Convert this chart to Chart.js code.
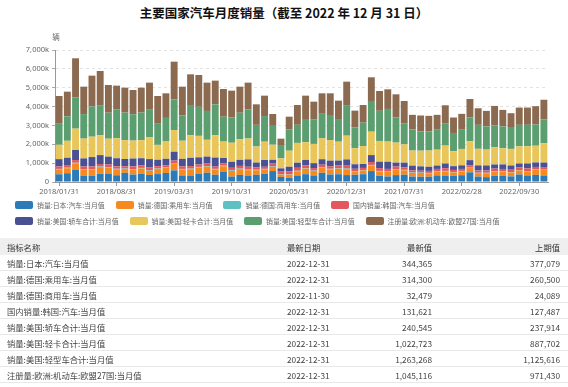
<!DOCTYPE html>
<html>
<head>
<meta charset="utf-8">
<script src="https://cdn.jsdelivr.net/npm/chart.js@4.4.1/dist/chart.umd.min.js"></script>
<style>
  body { margin: 0; width: 568px; height: 387px; background: #fff; overflow: hidden;
         font-family: "Noto Sans CJK SC", "Noto Sans", sans-serif; position: relative; }
  #title { position: absolute; top: 4px; left: 0; width: 568px; text-align: center;
           font-size: 12.5px; font-weight: bold; color: #111; line-height: 18px; }
  #wrap { position: absolute; top: 26px; left: 0; width: 568px; height: 172px; }
  #legend { position: absolute; top: 197px; left: 15px; width: 553px; }
  .lrow { display: flex; height: 16px; align-items: center; }
  .litem { display: flex; align-items: center; margin-right: 11px; font-size: 6.9px; color: #666; white-space: nowrap; }
  .lbox { width: 18px; height: 8px; border-radius: 2px; margin-right: 4px; }
  table { position: absolute; top: 238px; left: 0; width: 568px; border-collapse: collapse;
          font-size: 8.3px; color: #444; table-layout: fixed; }
  th { background: #efefef; font-weight: normal; color: #333; height: 17px; padding: 0 8px 0 7px; }
  td { height: 15px; padding: 0 8px 0 7px; border-bottom: 1px solid #e8e8e8; }
  th.l, td.l { text-align: left; }
  th.r, td.r { text-align: right; }
</style>
</head>
<body>
<div id="title">主要国家汽车月度销量（截至 2022 年 12 月 31 日）</div>
<div id="wrap"><canvas id="chart" width="568" height="172"></canvas></div>
<div id="legend"></div>
<table id="tbl">
  <colgroup><col style="width:280px"><col style="width:100px"><col style="width:60px"><col style="width:128px"></colgroup>
  <thead><tr><th class="l">指标名称</th><th class="l">最新日期</th><th class="r">最新值</th><th class="r">上期值</th></tr></thead>
  <tbody></tbody>
</table>
<script>
// 月份（月末日期）
const categories = [
  '2018/01/31','2018/02/28','2018/03/31','2018/04/30','2018/05/31','2018/06/30','2018/07/31','2018/08/31','2018/09/30','2018/10/31','2018/11/30','2018/12/31',
  '2019/01/31','2019/02/28','2019/03/31','2019/04/30','2019/05/31','2019/06/30','2019/07/31','2019/08/31','2019/09/30','2019/10/31','2019/11/30','2019/12/31',
  '2020/01/31','2020/02/29','2020/03/31','2020/04/30','2020/05/31','2020/06/30','2020/07/31','2020/08/31','2020/09/30','2020/10/31','2020/11/30','2020/12/31',
  '2021/01/31','2021/02/28','2021/03/31','2021/04/30','2021/05/31','2021/06/30','2021/07/31','2021/08/31','2021/09/30','2021/10/31','2021/11/30','2021/12/31',
  '2022/01/31','2022/02/28','2022/03/31','2022/04/30','2022/05/31','2022/06/30','2022/07/31','2022/08/31','2022/09/30','2022/10/31','2022/11/30','2022/12/31'
];

// 各序列数值，单位：千辆
const japan = [
  410,466,638,340,336,438,448,357,485,395,436,375,
  420,476,615,348,344,446,488,384,554,288,375,344,
  380,430,581,270,219,348,415,349,486,398,413,367,
  384,415,579,332,294,366,384,288,280,279,350,341,
  324,360,513,287,258,329,337,297,400,349,377.079,344.365
];
const germanyPC = [
  257,264,347,311,314,352,318,316,200,264,281,210,
  266,275,345,311,331,325,326,283,283,296,305,283,
  246,239,215,121,169,220,294,232,265,273,290,311,
  169,194,292,230,236,274,236,194,197,179,198,223,
  184,203,226,181,206,221,205,208,210,211,260.5,314.3
];
const germanyCV = [
  28,29,37,33,34,33,31,30,26,30,31,27,
  29,30,37,34,35,31,34,30,31,33,32,30,
  27,28,27,17,22,28,33,28,32,32,30,34,
  22,25,35,28,27,31,26,23,25,24,25,27,
  24,25,29,24,26,28,25,26,27,24.089,32.479,null
];
const korea = [
  127,106,140,137,139,133,128,127,119,136,143,153,
  124,108,139,135,133,125,130,119,124,135,141,151,
  128,110,154,145,159,157,138,130,134,131,144,155,
  125,112,151,146,137,147,130,113,97,106,120,139,
  108,105,121,118,122,131,124,120,133,138,127.487,131.621
];
const usCars = [
  390,420,537,430,500,470,420,430,390,420,370,450,
  340,340,470,400,440,380,370,480,280,320,320,390,
  250,360,200,170,240,270,290,260,290,300,260,330,
  240,210,370,340,380,210,250,250,230,220,180,250,
  200,190,270,270,265,220,240,225,210,260,237.914,240.545
];
const usLightTrucks = [
  760,900,1130,1050,1080,1060,950,1060,1000,950,960,1150,
  790,920,1150,960,1200,1140,890,1180,870,1010,1090,1110,
  850,970,800,530,850,1050,940,1020,1110,1090,1000,1260,
  850,950,1240,1100,1070,1060,970,800,830,860,840,950,
  790,870,1000,880,840,910,860,880,910,910,887.702,1022.723
];
const usLightVehicles = [
  1150,1300,1650,1300,1600,1560,1380,1520,1460,1400,1460,1500,
  1120,1250,1620,1340,1600,1540,1530,1640,1320,1340,1410,1550,
  1150,1360,1000,710,1120,960,1230,1310,1300,1330,1160,1620,
  1110,1240,1630,1600,1730,1340,1120,1120,1020,1020,1090,1190,
  970,1050,1260,1270,1230,1160,1160,1160,1140,1140,1125.616,1263.268
];
const eu27 = [
  1438,1305,2081,1455,1637,1841,1470,1270,1323,1285,1322,1404,
  1472,1304,2006,1528,1627,1688,1501,1259,1471,1422,1383,1411,
  1088,1082,630,335,686,1051,1239,932,1086,1149,1017,1245,
  884,938,1255,1051,1041,1222,1180,773,847,820,758,949,
  820,810,984,881,824,1035,873,732,917,915,971.43,1045.116
];

const yTicks = [0, 1000, 2000, 3000, 4000, 5000, 6000, 7000];

const seriesNames = [
  '销量:日本:汽车:当月值', '销量:德国:乘用车:当月值', '销量:德国:商用车:当月值', '国内销量:韩国:汽车:当月值',
  '销量:美国:轿车合计:当月值', '销量:美国:轻卡合计:当月值', '销量:美国:轻型车合计:当月值', '注册量:欧洲:机动车:欧盟27国:当月值'
];
const seriesData = [japan, germanyPC, germanyCV, korea, usCars, usLightTrucks, usLightVehicles, eu27];
const colors = ['#2b7bb9', '#f68a1e', '#5dc0c2', '#e2585e', '#4a5193', '#e8c65a', '#5b9e70', '#8b6a4f'];

// 表格：最新日期、最新值、上期值
const latestDates = ['2022-12-31','2022-12-31','2022-11-30','2022-12-31','2022-12-31','2022-12-31','2022-12-31','2022-12-31'];
const latestValues = [344365, 314300, 32479, 131621, 240545, 1022723, 1263268, 1045116];
const prevValues = [377079, 260500, 24089, 127487, 237914, 887702, 1125616, 971430];

// 图例（两行）
const legendRows = [[0, 1, 2, 3], [4, 5, 6, 7]];
const legend = document.getElementById('legend');
legendRows.forEach(row => {
  const r = document.createElement('div');
  r.className = 'lrow';
  row.forEach(i => {
    const it = document.createElement('div');
    it.className = 'litem';
    it.innerHTML = '<span class="lbox" style="background:' + colors[i] + '"></span>' + seriesNames[i];
    r.appendChild(it);
  });
  legend.appendChild(r);
});

// 表格内容
const tbody = document.querySelector('#tbl tbody');
seriesNames.forEach((name, i) => {
  const tr = document.createElement('tr');
  tr.innerHTML = '<td class="l">' + name + '</td><td class="l">' + latestDates[i] + '</td>' +
    '<td class="r">' + latestValues[i].toLocaleString('en-US') + '</td>' +
    '<td class="r">' + prevValues[i].toLocaleString('en-US') + '</td>';
  tbody.appendChild(tr);
});

// 单位“辆”
const unitLabel = {
  id: 'unitLabel',
  afterDraw(chart) {
    const c = chart.ctx;
    c.save();
    c.font = '7.5px "Noto Sans CJK SC"';
    c.fillStyle = '#666';
    c.textAlign = 'center';
    c.textBaseline = 'middle';
    c.fillText('辆', chart.chartArea.left + 1, chart.chartArea.top - 13);
    c.restore();
  }
};

new Chart(document.getElementById('chart').getContext('2d'), {
  type: 'bar',
  data: {
    labels: categories,
    datasets: seriesData.map((d, i) => ({
      label: seriesNames[i],
      data: d,
      backgroundColor: colors[i],
      borderWidth: 0,
      barPercentage: 0.84,
      categoryPercentage: 1.0,
      stack: 's'
    }))
  },
  options: {
    responsive: false,
    animation: false,
    devicePixelRatio: 1,
    layout: { padding: { top: 24, right: 20, left: 0, bottom: 0 } },
    plugins: { legend: { display: false }, tooltip: { enabled: false } },
    scales: {
      x: {
        stacked: true,
        grid: {
          offset: false,
          drawOnChartArea: false,
          tickLength: 4,
          color: ctx => (ctx.index % 7 === 0 ? '#999' : 'rgba(0,0,0,0)')
        },
        border: { color: '#999' },
        ticks: {
          autoSkip: false,
          maxRotation: 0,
          padding: 1,
          color: '#666',
          font: { size: 7.5, family: 'Noto Sans' },
          callback: (v, i) => (i % 7 === 0 ? categories[i] : '')
        },
        afterFit: s => { s.height = 16; }
      },
      y: {
        stacked: true,
        min: 0,
        max: 7000,
        afterBuildTicks: s => { s.ticks = yTicks.map(v => ({ value: v })); },
        grid: { color: '#e2e2e2', tickColor: '#aaa', tickLength: 3 },
        border: { color: '#999', dash: [3, 3] },
        ticks: {
          padding: 3,
          color: '#666',
          font: { size: 7.5, family: 'Noto Sans' },
          callback: v => (v === 0 ? '0' : v.toLocaleString('en-US') + 'k')
        },
        afterFit: s => { s.width = 55; }
      }
    }
  },
  plugins: [unitLabel]
});
</script>
</body>
</html>
